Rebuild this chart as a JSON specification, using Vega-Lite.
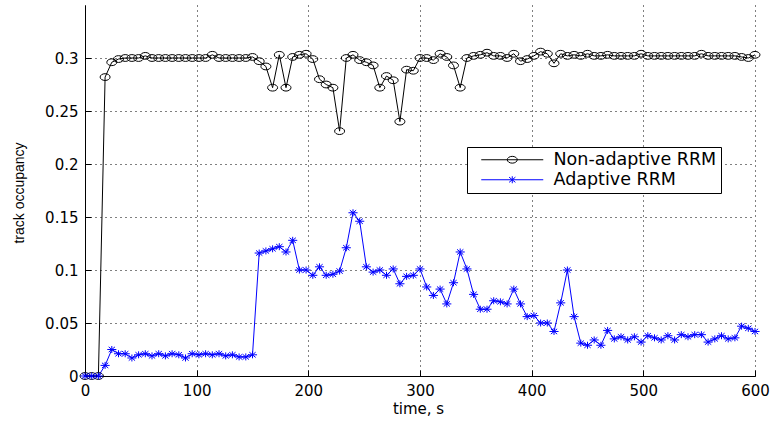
{
  "$schema": "https://vega.github.io/schema/vega-lite/v6.json",
  "width": 670,
  "height": 371,
  "autosize": {"type": "none"},
  "padding": {"left": 85, "top": 5, "right": 15, "bottom": 45},
  "background": "white",
  "config": {
    "view": {"stroke": null},
    "axis": {
      "domainColor": "black",
      "domainWidth": 1,
      "tickColor": "black",
      "tickSize": -6,
      "tickWidth": 1,
      "grid": true,
      "gridColor": "black",
      "gridOpacity": 1,
      "gridDash": [1, 4],
      "gridWidth": 1,
      "labelFont": "DejaVu Sans",
      "labelFontSize": 15,
      "labelColor": "black",
      "labelFlush": false,
      "labelOverlap": false,
      "labelPadding": 13,
      "titleColor": "black",
      "titleFontWeight": "normal"
    }
  },
  "data": {
    "values": [
      {"t": 0, "v": 0, "s": "Non-adaptive RRM"},
      {"t": 6, "v": 0, "s": "Non-adaptive RRM"},
      {"t": 12, "v": 0, "s": "Non-adaptive RRM"},
      {"t": 18, "v": 0.282, "s": "Non-adaptive RRM"},
      {"t": 24, "v": 0.296, "s": "Non-adaptive RRM"},
      {"t": 30, "v": 0.299, "s": "Non-adaptive RRM"},
      {"t": 36, "v": 0.3, "s": "Non-adaptive RRM"},
      {"t": 42, "v": 0.3, "s": "Non-adaptive RRM"},
      {"t": 48, "v": 0.3, "s": "Non-adaptive RRM"},
      {"t": 54, "v": 0.302, "s": "Non-adaptive RRM"},
      {"t": 60, "v": 0.3, "s": "Non-adaptive RRM"},
      {"t": 66, "v": 0.3, "s": "Non-adaptive RRM"},
      {"t": 72, "v": 0.3, "s": "Non-adaptive RRM"},
      {"t": 78, "v": 0.3, "s": "Non-adaptive RRM"},
      {"t": 84, "v": 0.3, "s": "Non-adaptive RRM"},
      {"t": 90, "v": 0.3, "s": "Non-adaptive RRM"},
      {"t": 96, "v": 0.3, "s": "Non-adaptive RRM"},
      {"t": 102, "v": 0.3, "s": "Non-adaptive RRM"},
      {"t": 108, "v": 0.3, "s": "Non-adaptive RRM"},
      {"t": 114, "v": 0.303, "s": "Non-adaptive RRM"},
      {"t": 120, "v": 0.3, "s": "Non-adaptive RRM"},
      {"t": 126, "v": 0.3, "s": "Non-adaptive RRM"},
      {"t": 132, "v": 0.3, "s": "Non-adaptive RRM"},
      {"t": 138, "v": 0.3, "s": "Non-adaptive RRM"},
      {"t": 144, "v": 0.3, "s": "Non-adaptive RRM"},
      {"t": 150, "v": 0.301, "s": "Non-adaptive RRM"},
      {"t": 156, "v": 0.297, "s": "Non-adaptive RRM"},
      {"t": 162, "v": 0.292, "s": "Non-adaptive RRM"},
      {"t": 168, "v": 0.272, "s": "Non-adaptive RRM"},
      {"t": 174, "v": 0.303, "s": "Non-adaptive RRM"},
      {"t": 180, "v": 0.272, "s": "Non-adaptive RRM"},
      {"t": 186, "v": 0.301, "s": "Non-adaptive RRM"},
      {"t": 192, "v": 0.303, "s": "Non-adaptive RRM"},
      {"t": 198, "v": 0.304, "s": "Non-adaptive RRM"},
      {"t": 204, "v": 0.299, "s": "Non-adaptive RRM"},
      {"t": 210, "v": 0.28, "s": "Non-adaptive RRM"},
      {"t": 216, "v": 0.275, "s": "Non-adaptive RRM"},
      {"t": 222, "v": 0.272, "s": "Non-adaptive RRM"},
      {"t": 228, "v": 0.231, "s": "Non-adaptive RRM"},
      {"t": 234, "v": 0.3, "s": "Non-adaptive RRM"},
      {"t": 240, "v": 0.303, "s": "Non-adaptive RRM"},
      {"t": 246, "v": 0.298, "s": "Non-adaptive RRM"},
      {"t": 252, "v": 0.296, "s": "Non-adaptive RRM"},
      {"t": 258, "v": 0.293, "s": "Non-adaptive RRM"},
      {"t": 264, "v": 0.272, "s": "Non-adaptive RRM"},
      {"t": 270, "v": 0.283, "s": "Non-adaptive RRM"},
      {"t": 276, "v": 0.279, "s": "Non-adaptive RRM"},
      {"t": 282, "v": 0.24, "s": "Non-adaptive RRM"},
      {"t": 288, "v": 0.289, "s": "Non-adaptive RRM"},
      {"t": 294, "v": 0.288, "s": "Non-adaptive RRM"},
      {"t": 300, "v": 0.3, "s": "Non-adaptive RRM"},
      {"t": 306, "v": 0.3, "s": "Non-adaptive RRM"},
      {"t": 312, "v": 0.298, "s": "Non-adaptive RRM"},
      {"t": 318, "v": 0.304, "s": "Non-adaptive RRM"},
      {"t": 324, "v": 0.301, "s": "Non-adaptive RRM"},
      {"t": 330, "v": 0.293, "s": "Non-adaptive RRM"},
      {"t": 336, "v": 0.272, "s": "Non-adaptive RRM"},
      {"t": 342, "v": 0.3, "s": "Non-adaptive RRM"},
      {"t": 348, "v": 0.302, "s": "Non-adaptive RRM"},
      {"t": 354, "v": 0.303, "s": "Non-adaptive RRM"},
      {"t": 360, "v": 0.305, "s": "Non-adaptive RRM"},
      {"t": 366, "v": 0.302, "s": "Non-adaptive RRM"},
      {"t": 372, "v": 0.302, "s": "Non-adaptive RRM"},
      {"t": 378, "v": 0.3, "s": "Non-adaptive RRM"},
      {"t": 384, "v": 0.304, "s": "Non-adaptive RRM"},
      {"t": 390, "v": 0.297, "s": "Non-adaptive RRM"},
      {"t": 396, "v": 0.299, "s": "Non-adaptive RRM"},
      {"t": 402, "v": 0.302, "s": "Non-adaptive RRM"},
      {"t": 408, "v": 0.306, "s": "Non-adaptive RRM"},
      {"t": 414, "v": 0.304, "s": "Non-adaptive RRM"},
      {"t": 420, "v": 0.295, "s": "Non-adaptive RRM"},
      {"t": 426, "v": 0.304, "s": "Non-adaptive RRM"},
      {"t": 432, "v": 0.302, "s": "Non-adaptive RRM"},
      {"t": 438, "v": 0.303, "s": "Non-adaptive RRM"},
      {"t": 444, "v": 0.302, "s": "Non-adaptive RRM"},
      {"t": 450, "v": 0.304, "s": "Non-adaptive RRM"},
      {"t": 456, "v": 0.302, "s": "Non-adaptive RRM"},
      {"t": 462, "v": 0.302, "s": "Non-adaptive RRM"},
      {"t": 468, "v": 0.303, "s": "Non-adaptive RRM"},
      {"t": 474, "v": 0.302, "s": "Non-adaptive RRM"},
      {"t": 480, "v": 0.302, "s": "Non-adaptive RRM"},
      {"t": 486, "v": 0.302, "s": "Non-adaptive RRM"},
      {"t": 492, "v": 0.302, "s": "Non-adaptive RRM"},
      {"t": 498, "v": 0.304, "s": "Non-adaptive RRM"},
      {"t": 504, "v": 0.302, "s": "Non-adaptive RRM"},
      {"t": 510, "v": 0.302, "s": "Non-adaptive RRM"},
      {"t": 516, "v": 0.302, "s": "Non-adaptive RRM"},
      {"t": 522, "v": 0.302, "s": "Non-adaptive RRM"},
      {"t": 528, "v": 0.302, "s": "Non-adaptive RRM"},
      {"t": 534, "v": 0.302, "s": "Non-adaptive RRM"},
      {"t": 540, "v": 0.302, "s": "Non-adaptive RRM"},
      {"t": 546, "v": 0.302, "s": "Non-adaptive RRM"},
      {"t": 552, "v": 0.304, "s": "Non-adaptive RRM"},
      {"t": 558, "v": 0.302, "s": "Non-adaptive RRM"},
      {"t": 564, "v": 0.302, "s": "Non-adaptive RRM"},
      {"t": 570, "v": 0.302, "s": "Non-adaptive RRM"},
      {"t": 576, "v": 0.302, "s": "Non-adaptive RRM"},
      {"t": 582, "v": 0.302, "s": "Non-adaptive RRM"},
      {"t": 588, "v": 0.301, "s": "Non-adaptive RRM"},
      {"t": 594, "v": 0.3, "s": "Non-adaptive RRM"},
      {"t": 600, "v": 0.303, "s": "Non-adaptive RRM"},
      {"t": 0, "v": 0, "s": "Adaptive RRM"},
      {"t": 6, "v": 0, "s": "Adaptive RRM"},
      {"t": 12, "v": 0, "s": "Adaptive RRM"},
      {"t": 18, "v": 0.01, "s": "Adaptive RRM"},
      {"t": 24, "v": 0.025, "s": "Adaptive RRM"},
      {"t": 30, "v": 0.021, "s": "Adaptive RRM"},
      {"t": 36, "v": 0.021, "s": "Adaptive RRM"},
      {"t": 42, "v": 0.017, "s": "Adaptive RRM"},
      {"t": 48, "v": 0.02, "s": "Adaptive RRM"},
      {"t": 54, "v": 0.021, "s": "Adaptive RRM"},
      {"t": 60, "v": 0.019, "s": "Adaptive RRM"},
      {"t": 66, "v": 0.021, "s": "Adaptive RRM"},
      {"t": 72, "v": 0.019, "s": "Adaptive RRM"},
      {"t": 78, "v": 0.021, "s": "Adaptive RRM"},
      {"t": 84, "v": 0.02, "s": "Adaptive RRM"},
      {"t": 90, "v": 0.017, "s": "Adaptive RRM"},
      {"t": 96, "v": 0.021, "s": "Adaptive RRM"},
      {"t": 102, "v": 0.02, "s": "Adaptive RRM"},
      {"t": 108, "v": 0.021, "s": "Adaptive RRM"},
      {"t": 114, "v": 0.02, "s": "Adaptive RRM"},
      {"t": 120, "v": 0.021, "s": "Adaptive RRM"},
      {"t": 126, "v": 0.019, "s": "Adaptive RRM"},
      {"t": 132, "v": 0.02, "s": "Adaptive RRM"},
      {"t": 138, "v": 0.018, "s": "Adaptive RRM"},
      {"t": 144, "v": 0.018, "s": "Adaptive RRM"},
      {"t": 150, "v": 0.02, "s": "Adaptive RRM"},
      {"t": 156, "v": 0.116, "s": "Adaptive RRM"},
      {"t": 162, "v": 0.118, "s": "Adaptive RRM"},
      {"t": 168, "v": 0.12, "s": "Adaptive RRM"},
      {"t": 174, "v": 0.122, "s": "Adaptive RRM"},
      {"t": 180, "v": 0.117, "s": "Adaptive RRM"},
      {"t": 186, "v": 0.128, "s": "Adaptive RRM"},
      {"t": 192, "v": 0.1, "s": "Adaptive RRM"},
      {"t": 198, "v": 0.1, "s": "Adaptive RRM"},
      {"t": 204, "v": 0.095, "s": "Adaptive RRM"},
      {"t": 210, "v": 0.103, "s": "Adaptive RRM"},
      {"t": 216, "v": 0.095, "s": "Adaptive RRM"},
      {"t": 222, "v": 0.096, "s": "Adaptive RRM"},
      {"t": 228, "v": 0.099, "s": "Adaptive RRM"},
      {"t": 234, "v": 0.121, "s": "Adaptive RRM"},
      {"t": 240, "v": 0.154, "s": "Adaptive RRM"},
      {"t": 246, "v": 0.146, "s": "Adaptive RRM"},
      {"t": 252, "v": 0.103, "s": "Adaptive RRM"},
      {"t": 258, "v": 0.098, "s": "Adaptive RRM"},
      {"t": 264, "v": 0.1, "s": "Adaptive RRM"},
      {"t": 270, "v": 0.095, "s": "Adaptive RRM"},
      {"t": 276, "v": 0.101, "s": "Adaptive RRM"},
      {"t": 282, "v": 0.087, "s": "Adaptive RRM"},
      {"t": 288, "v": 0.094, "s": "Adaptive RRM"},
      {"t": 294, "v": 0.095, "s": "Adaptive RRM"},
      {"t": 300, "v": 0.101, "s": "Adaptive RRM"},
      {"t": 306, "v": 0.084, "s": "Adaptive RRM"},
      {"t": 312, "v": 0.076, "s": "Adaptive RRM"},
      {"t": 318, "v": 0.082, "s": "Adaptive RRM"},
      {"t": 324, "v": 0.068, "s": "Adaptive RRM"},
      {"t": 330, "v": 0.088, "s": "Adaptive RRM"},
      {"t": 336, "v": 0.117, "s": "Adaptive RRM"},
      {"t": 342, "v": 0.101, "s": "Adaptive RRM"},
      {"t": 348, "v": 0.077, "s": "Adaptive RRM"},
      {"t": 354, "v": 0.063, "s": "Adaptive RRM"},
      {"t": 360, "v": 0.063, "s": "Adaptive RRM"},
      {"t": 366, "v": 0.071, "s": "Adaptive RRM"},
      {"t": 372, "v": 0.07, "s": "Adaptive RRM"},
      {"t": 378, "v": 0.068, "s": "Adaptive RRM"},
      {"t": 384, "v": 0.082, "s": "Adaptive RRM"},
      {"t": 390, "v": 0.068, "s": "Adaptive RRM"},
      {"t": 396, "v": 0.056, "s": "Adaptive RRM"},
      {"t": 402, "v": 0.057, "s": "Adaptive RRM"},
      {"t": 408, "v": 0.05, "s": "Adaptive RRM"},
      {"t": 414, "v": 0.05, "s": "Adaptive RRM"},
      {"t": 420, "v": 0.042, "s": "Adaptive RRM"},
      {"t": 426, "v": 0.069, "s": "Adaptive RRM"},
      {"t": 432, "v": 0.1, "s": "Adaptive RRM"},
      {"t": 438, "v": 0.056, "s": "Adaptive RRM"},
      {"t": 444, "v": 0.031, "s": "Adaptive RRM"},
      {"t": 450, "v": 0.029, "s": "Adaptive RRM"},
      {"t": 456, "v": 0.034, "s": "Adaptive RRM"},
      {"t": 462, "v": 0.029, "s": "Adaptive RRM"},
      {"t": 468, "v": 0.043, "s": "Adaptive RRM"},
      {"t": 474, "v": 0.035, "s": "Adaptive RRM"},
      {"t": 480, "v": 0.037, "s": "Adaptive RRM"},
      {"t": 486, "v": 0.034, "s": "Adaptive RRM"},
      {"t": 492, "v": 0.037, "s": "Adaptive RRM"},
      {"t": 498, "v": 0.032, "s": "Adaptive RRM"},
      {"t": 504, "v": 0.038, "s": "Adaptive RRM"},
      {"t": 510, "v": 0.036, "s": "Adaptive RRM"},
      {"t": 516, "v": 0.034, "s": "Adaptive RRM"},
      {"t": 522, "v": 0.038, "s": "Adaptive RRM"},
      {"t": 528, "v": 0.034, "s": "Adaptive RRM"},
      {"t": 534, "v": 0.039, "s": "Adaptive RRM"},
      {"t": 540, "v": 0.037, "s": "Adaptive RRM"},
      {"t": 546, "v": 0.039, "s": "Adaptive RRM"},
      {"t": 552, "v": 0.039, "s": "Adaptive RRM"},
      {"t": 558, "v": 0.032, "s": "Adaptive RRM"},
      {"t": 564, "v": 0.035, "s": "Adaptive RRM"},
      {"t": 570, "v": 0.038, "s": "Adaptive RRM"},
      {"t": 576, "v": 0.035, "s": "Adaptive RRM"},
      {"t": 582, "v": 0.036, "s": "Adaptive RRM"},
      {"t": 588, "v": 0.047, "s": "Adaptive RRM"},
      {"t": 594, "v": 0.045, "s": "Adaptive RRM"},
      {"t": 600, "v": 0.042, "s": "Adaptive RRM"}
    ]
  },
  "encoding": {
    "x": {
      "field": "t",
      "type": "quantitative",
      "scale": {"domain": [0, 600], "nice": false, "zero": false},
      "axis": {
        "values": [0, 100, 200, 300, 400, 500, 600],
        "title": "time, s",
        "titleFont": "DejaVu Sans",
        "titleFontSize": 15,
        "titleX": 333,
        "titleY": 32,
        "titleAlign": "center",
        "titleBaseline": "middle"
      }
    },
    "y": {
      "field": "v",
      "type": "quantitative",
      "scale": {"domain": [0, 0.35], "nice": false},
      "axis": {
        "values": [0, 0.05, 0.1, 0.15, 0.2, 0.25, 0.3],
        "format": "~g",
        "title": "track occupancy",
        "titleFont": "Liberation Sans",
        "titleFontSize": 14,
        "titleAngle": -90,
        "titleX": -66,
        "titleY": 187.5,
        "titleAlign": "center",
        "titleBaseline": "middle"
      }
    },
    "color": {
      "field": "s",
      "type": "nominal",
      "scale": {"domain": ["Non-adaptive RRM", "Adaptive RRM"], "range": ["#000000", "#0000ff"]},
      "legend": {
        "title": null,
        "orient": "none",
        "legendX": 382,
        "legendY": 142,
        "strokeColor": "black",
        "fillColor": "white",
        "cornerRadius": 0,
        "padding": 4,
        "symbolSize": 100,
        "symbolType": "stroke",
        "symbolStrokeWidth": 1,
        "symbolOffset": 32.5,
        "labelOffset": 32.5,
        "labelFont": "DejaVu Sans",
        "labelFontSize": 17.5,
        "labelColor": "black",
        "labelLimit": 0,
        "rowPadding": 1,
        "encode": {
          "symbols": {
            "update": {
              "shape": {"signal": "datum.value === 'Adaptive RRM' ? 'M-6.2,0L6.2,0M0,-0.7L0,0.7M-0.63,-0.52L0.63,0.52M-0.63,0.52L0.63,-0.52' : 'M-6.2,0L6.2,0M-1,0A1,0.68,0,1,1,1,0A1,0.68,0,1,1,-1,0Z'"},
              "fill": {"value": "transparent"},
              "strokeWidth": {"value": 1},
              "opacity": {"value": 1}
            }
          }
        }
      }
    }
  },
  "layer": [
    {
      "mark": {"type": "line", "strokeWidth": 1}
    },
    {
      "transform": [{"filter": "datum.s === 'Non-adaptive RRM'"}],
      "mark": {
        "type": "point",
        "filled": false,
        "strokeWidth": 1,
        "opacity": 1,
        "size": 46,
        "shape": "M-1.47,0A1.47,1,0,1,1,1.47,0A1.47,1,0,1,1,-1.47,0Z"
      }
    },
    {
      "transform": [{"filter": "datum.s === 'Adaptive RRM'"}],
      "mark": {
        "type": "point",
        "filled": false,
        "strokeWidth": 1,
        "opacity": 1,
        "size": 49,
        "shape": "M-1.3,0L1.3,0M0,-1L0,1M-0.9,-0.75L0.9,0.75M-0.9,0.75L0.9,-0.75"
      }
    }
  ]
}
